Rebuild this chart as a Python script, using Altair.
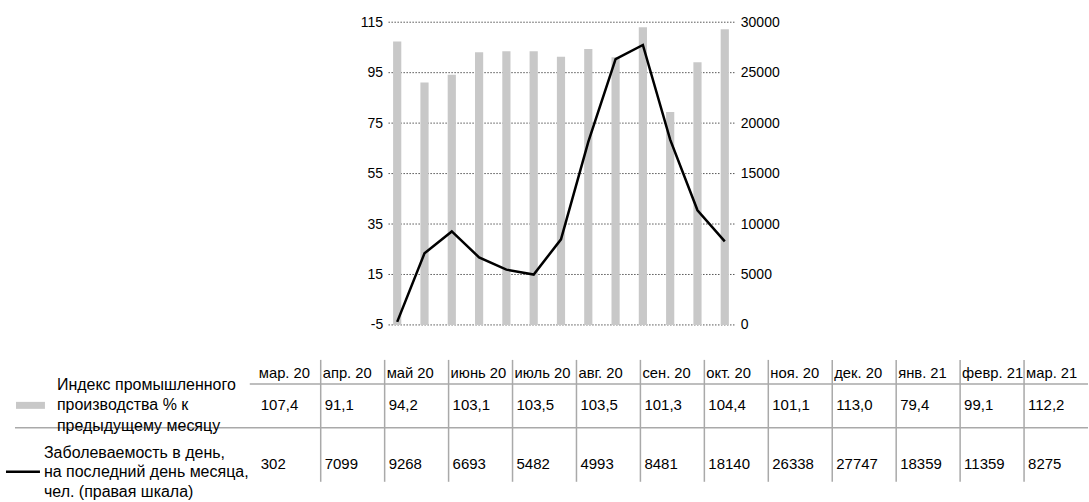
import altair as alt
import pandas as pd

months = ["мар. 20", "апр. 20", "май 20", "июнь 20", "июль 20", "авг. 20", "сен. 20",
          "окт. 20", "ноя. 20", "дек. 20", "янв. 21", "февр. 21", "мар. 21"]
index_vals = [107.4, 91.1, 94.2, 103.1, 103.5, 103.5, 101.3, 104.4, 101.1, 113.0, 79.4, 99.1, 112.2]
cases_vals = [302, 7099, 9268, 6693, 5482, 4993, 8481, 18140, 26338, 27747, 18359, 11359, 8275]
left_ticks = [-5, 15, 35, 55, 75, 95, 115]
right_ticks = [0, 5000, 10000, 15000, 20000, 25000, 30000]
legend_index = "Индекс промышленного\nпроизводства % к\nпредыдущему месяцу"
legend_cases = "Заболеваемость в день,\nна последний день месяца,\nчел. (правая шкала)"

df = pd.DataFrame({"m": months, "idx": index_vals, "cases": cases_vals})
df["idx_s"] = [f"{v:.1f}".replace(".", ",") for v in index_vals]
df["cases_s"] = [str(v) for v in cases_vals]
one = df.iloc[:1]
grid_df = pd.DataFrame({"t": left_ticks})

FONT = "Liberation Sans"
GRAY = "#c8c8c8"
LINEGRAY = "#a9a9a9"

# ---------------- main chart ----------------
xm = alt.X("m:N", sort=months, axis=None,
           scale=alt.Scale(paddingInner=0.7, paddingOuter=0.2))
yscale_left = alt.Scale(domain=[-5, 115], nice=False, zero=False)
left_axis = alt.Axis(values=left_ticks, title=None, domain=False, ticks=False,
                     labelPadding=5, grid=False, labelFontSize=14,
                     labelColor="black", labelFont=FONT,
                     labelExpr="datum.value < 0 ? '-' + abs(datum.value) : datum.label")

grid = alt.Chart(grid_df).mark_rule(color="black", strokeWidth=1, strokeDash=[1, 2]).encode(
    y=alt.Y("t:Q", scale=yscale_left, axis=left_axis)
)

bars = alt.Chart(df).mark_bar(color=GRAY).encode(
    x=xm,
    y=alt.Y("idx:Q", scale=yscale_left, axis=left_axis),
    y2=alt.datum(-5),
)

line = alt.Chart(df).mark_line(color="black", strokeWidth=2.5).encode(
    x=xm,
    y=alt.Y("cases:Q",
            scale=alt.Scale(domain=[0, 30000], nice=False),
            axis=alt.Axis(orient="right", values=right_ticks, format="d", title=None,
                          domain=False, ticks=False, grid=False, labelPadding=6,
                          labelFontSize=14, labelColor="black", labelFont=FONT)),
)

main = alt.layer(alt.layer(grid, bars), line).resolve_scale(y="independent").properties(
    width=347, height=303)

spacer = alt.Chart(one).mark_point(opacity=0).encode(
    x=alt.X("idx:Q", axis=None), y=alt.Y("idx:Q", axis=None)
).properties(width=360, height=10)

top = alt.hconcat(spacer, main, spacing=0)

# ---------------- table ----------------
xb = alt.X("m:N", sort=months, axis=None, bandPosition=0,
           scale=alt.Scale(range=[257, 1089], paddingInner=0, paddingOuter=0))

txt = dict(align="left", baseline="middle", font=FONT, color="black")

header = alt.Chart(df).mark_text(dx=2, fontSize=14.8, **txt).encode(
    x=xb, y=alt.value(15), text="m:N")
row1 = alt.Chart(df).mark_text(dx=4, fontSize=15, **txt).encode(
    x=xb, y=alt.value(46), text="idx_s:N")
row2 = alt.Chart(df).mark_text(dx=4, fontSize=15, **txt).encode(
    x=xb, y=alt.value(105), text="cases_s:N")

vrules = alt.Chart(df.iloc[1:]).mark_rule(color=LINEGRAY, strokeWidth=1.5).encode(
    x=xb, y=alt.value(1), y2=alt.value(123))

hline1 = alt.Chart(one).mark_rule(color=LINEGRAY, strokeWidth=1.5).encode(
    x=alt.value(250), x2=alt.value(1089), y=alt.value(25))
hline2 = alt.Chart(one).mark_rule(color=LINEGRAY, strokeWidth=1.5).encode(
    x=alt.value(15), x2=alt.value(1089), y=alt.value(69))

leg1_txt = alt.Chart(one).mark_text(lineBreak="\n", lineHeight=20.5, fontSize=16, **txt).encode(
    x=alt.value(57), y=alt.value(26), text=alt.value(legend_index))
leg2_txt = alt.Chart(one).mark_text(lineBreak="\n", lineHeight=19.5, fontSize=16, **txt).encode(
    x=alt.value(44), y=alt.value(94), text=alt.value(legend_cases))

leg1_sym = alt.Chart(one).mark_rect(color=GRAY).encode(
    x=alt.value(16), x2=alt.value(45), y=alt.value(43), y2=alt.value(50))
leg2_sym = alt.Chart(one).mark_rule(color="black", strokeWidth=2.5).encode(
    x=alt.value(6), x2=alt.value(40), y=alt.value(113))

table = alt.layer(vrules, hline1, hline2, header, row1, row2,
                  leg1_sym, leg2_sym, leg1_txt, leg2_txt).properties(width=1089, height=140)

chart = alt.vconcat(top, table, spacing=27).properties(
    padding={"top": 15, "left": 0, "right": 0, "bottom": 0}
).configure(font=FONT).configure_view(stroke=None)

chart.save("out.html", embed_options={"renderer": "svg", "actions": False})
